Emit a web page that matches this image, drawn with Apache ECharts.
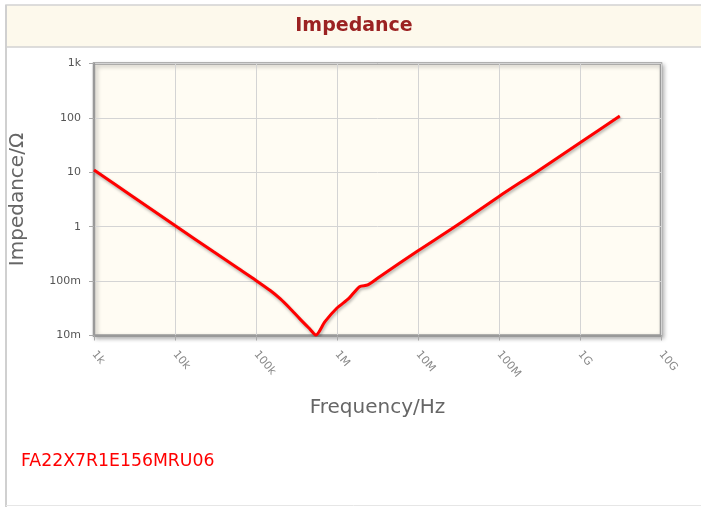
<!DOCTYPE html>
<html>
<head>
<meta charset="utf-8">
<script src="https://cdn.jsdelivr.net/npm/echarts@6/dist/echarts.min.js"></script>
<style>
html,body{margin:0;padding:0;background:#fff;}
#c{width:701px;height:507px;}
</style>
</head>
<body>
<div id="c"></div>
<script>
var chartTitle = 'Impedance';
var partNumber = 'FA22X7R1E156MRU06';
var xAxisName = 'Frequency/Hz';
var yAxisName = 'Impedance/\u03A9';
var xTickValues = [1e3, 1e4, 1e5, 1e6, 1e7, 1e8, 1e9, 1e10];
var xTickLabels = ['1k', '10k', '100k', '1M', '10M', '100M', '1G', '10G'];
var yTickValues = [0.01, 0.1, 1, 10, 100, 1000];
var yTickLabels = ['10m', '100m', '1', '10', '100', '1k'];
var frequency = [1e3, 3e3, 1e4, 3e4, 6e4, 1e5, 1.5e5, 2e5, 2.6e5, 3.5e5, 4.5e5, 5.5e5, 7.1e5, 1e6, 1.4e6, 1.9e6, 2.4e6, 3.4e6, 1e7, 3e7, 1e8, 3e8, 1e9, 3.1e9];
var impedance = [11, 3.6, 1.05, 0.345, 0.172, 0.103, 0.067, 0.047, 0.032, 0.020, 0.0137, 0.0102, 0.018, 0.032, 0.048, 0.079, 0.085, 0.122, 0.36, 1.05, 3.6, 10.5, 35, 108];

function labelFor(values, labels, v) {
  for (var i = 0; i < values.length; i++) {
    if (Math.abs(Math.log10(v) - Math.log10(values[i])) < 1e-6) return labels[i];
  }
  return '';
}

var data = frequency.map(function (f, i) { return [f, impedance[i]]; });

var chart = echarts.init(document.getElementById('c'), null, {renderer: 'canvas'});
chart.setOption({
  animation: false,
  backgroundColor: '#ffffff',
  textStyle: {fontFamily: 'DejaVu Sans'},
  graphic: [
    {type: 'rect', z: 0, shape: {x: 6, y: 5, width: 700, height: 42}, style: {fill: '#fdf9ec', stroke: '#d2d2d2', lineWidth: 1.5}},
    {type: 'line', z: 0, shape: {x1: 6, y1: 5, x2: 6, y2: 507}, style: {stroke: '#d0d0d0', lineWidth: 2}},
    {type: 'line', z: 0, shape: {x1: 6, y1: 505.5, x2: 701, y2: 505.5}, style: {stroke: '#e6e6e6', lineWidth: 1}},
    {type: 'text', z: 5, x: 354, y: 26.5, style: {text: chartTitle, fill: '#9b2222', font: 'bold 19px "DejaVu Sans"', textAlign: 'center', textVerticalAlign: 'middle'}},
    {type: 'text', z: 5, x: 21, y: 462, style: {text: partNumber, fill: '#ff0000', font: '17.3px "DejaVu Sans"', textAlign: 'left', textVerticalAlign: 'middle'}}
  ],
  grid: {
    left: 94, right: 40, top: 63.5, bottom: 171.5,
    show: true,
    backgroundColor: '#fffcf3',
    borderColor: '#999999',
    borderWidth: 2.5,
    shadowColor: 'rgba(0,0,0,0.25)',
    shadowBlur: 4,
    shadowOffsetX: 2,
    shadowOffsetY: 2
  },
  xAxis: {
    type: 'log', logBase: 10, min: 1e3, max: 1e10, splitNumber: 7,
    name: xAxisName, nameLocation: 'middle', nameGap: 62,
    nameTextStyle: {fontSize: 20, color: '#666666', fontFamily: 'DejaVu Sans'},
    axisLine: {show: true, lineStyle: {color: '#999999', width: 2}},
    axisTick: {show: true, length: 5, lineStyle: {color: '#aaaaaa'}},
    splitLine: {show: true, lineStyle: {color: '#d4d4d4', width: 1}},
    axisLabel: {
      rotate: -50, margin: 17, fontSize: 11, color: '#888888',
      formatter: function (v) { return labelFor(xTickValues, xTickLabels, v); }
    }
  },
  yAxis: {
    type: 'log', logBase: 10, min: 0.01, max: 1000, splitNumber: 5,
    name: yAxisName, nameLocation: 'middle', nameGap: 66,
    nameTextStyle: {fontSize: 20, color: '#666666', fontFamily: 'DejaVu Sans'},
    axisLine: {show: true, lineStyle: {color: '#999999', width: 2}},
    axisTick: {show: true, length: 5, lineStyle: {color: '#aaaaaa'}},
    splitLine: {show: true, lineStyle: {color: '#d4d4d4', width: 1}},
    axisLabel: {
      margin: 13, fontSize: 11, color: '#555555',
      formatter: function (v) { return labelFor(yTickValues, yTickLabels, v); }
    }
  },
  series: [{
    type: 'line',
    data: data,
    showSymbol: false,
    smooth: 0.25,
    lineStyle: {color: '#ff0000', width: 3, shadowColor: 'rgba(0,0,0,0.3)', shadowBlur: 3, shadowOffsetX: 1, shadowOffsetY: 2},
    itemStyle: {color: '#ff0000'}
  }]
});
</script>
</body>
</html>
